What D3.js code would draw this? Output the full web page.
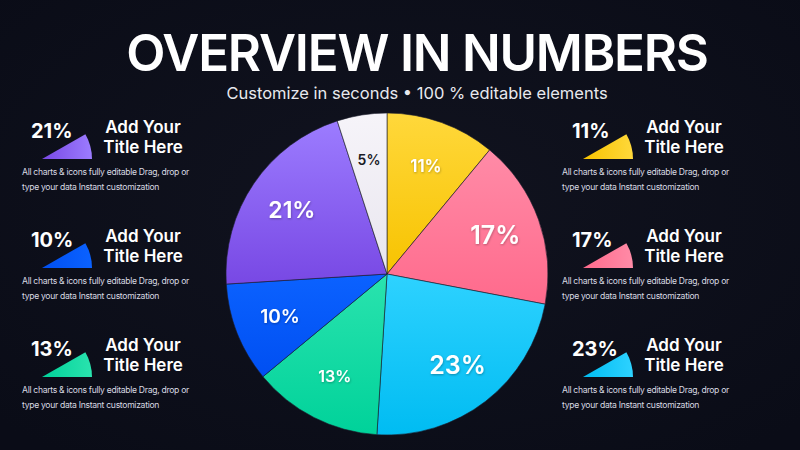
<!DOCTYPE html>
<html>
<head>
<meta charset="utf-8">
<script src="https://cdn.jsdelivr.net/npm/d3@7"></script>
<style>
  html, body { margin: 0; padding: 0; background: #0d0f1b; }
  svg { display: block; }
  text { font-family: Inter, "Open Sans", sans-serif; }
</style>
</head>
<body>
<svg id="chart" width="800" height="450"></svg>
<script>
// pie data, clockwise from 12 o'clock
var sliceNames = ["yellow", "pink", "cyan", "green", "blue", "purple", "white"];
var sliceValues = [11, 17, 23, 13, 10, 21, 5];
var sliceTop = ["#ffd83b", "#ff8ba7", "#2ed2ff", "#2ae3ae", "#0b62ff", "#9c7cff", "#f6f4f9"];
var sliceBottom = ["#f7c300", "#ff6a8c", "#00bcf2", "#00d29a", "#004ff2", "#7848e4", "#e9e6ef"];
var labelSize = [17, 25, 25, 16, 19, 23, 14];

// side legend items
var leftItems = [5, 4, 3];   // index into slices
var rightItems = [0, 1, 2];
var itemTitle = ["Add Your", "Title Here"];
var itemDesc = ["All charts & icons fully editable Drag, drop or", "type your data Instant customization"];

var svg = d3.select("#chart");
var width = +svg.attr("width");
var defs = svg.append("defs");

// background
var bg = defs.append("radialGradient").attr("id", "bg")
  .attr("cx", "50%").attr("cy", "45%").attr("r", "70%");
bg.append("stop").attr("offset", "0%").attr("stop-color", "#11131f");
bg.append("stop").attr("offset", "100%").attr("stop-color", "#0a0c17");
svg.append("rect").attr("width", width).attr("height", 450).attr("fill", "url(#bg)");

sliceNames.forEach(function (n, i) {
  var g = defs.append("linearGradient").attr("id", "g-" + n)
    .attr("x1", 0).attr("y1", 0).attr("x2", 0).attr("y2", 1);
  g.append("stop").attr("offset", "0%").attr("stop-color", sliceTop[i]);
  g.append("stop").attr("offset", "100%").attr("stop-color", sliceBottom[i]);
  var h = defs.append("linearGradient").attr("id", "h-" + n)
    .attr("x1", 0).attr("y1", 0).attr("x2", 1).attr("y2", 0);
  h.append("stop").attr("offset", "0%").attr("stop-color", sliceBottom[i]);
  h.append("stop").attr("offset", "100%").attr("stop-color", sliceTop[i]);
});

var shadow = defs.append("filter").attr("id", "ts")
  .attr("x", "-20%").attr("y", "-20%").attr("width", "140%").attr("height", "140%");
shadow.append("feDropShadow").attr("dx", 0.5).attr("dy", 1).attr("stdDeviation", 1)
  .attr("flood-color", "#000").attr("flood-opacity", 0.3);

// title
svg.append("text")
  .attr("x", 417).attr("y", 71)
  .attr("text-anchor", "middle")
  .attr("fill", "#ffffff")
  .style("font-size", "51px").style("font-weight", 600)
  .style("letter-spacing", "-1.2px")
  .text("OVERVIEW IN NUMBERS");

svg.append("text")
  .attr("x", 417).attr("y", 99)
  .attr("text-anchor", "middle")
  .attr("fill", "#e8e9ee")
  .style("font-size", "16.5px").style("font-weight", 400)
  .text("Customize in seconds \u2022 100 % editable elements");

// pie
var cx = 387, cy = 274, radius = 161;
var pie = d3.pie().sort(null).value(function (d) { return d; });
var arcs = pie(sliceValues);
var arc = d3.arc().innerRadius(0).outerRadius(radius);
var labelArc = d3.arc().innerRadius(115).outerRadius(115);

var pg = svg.append("g").attr("transform", "translate(" + cx + "," + cy + ")");
pg.selectAll("path.slice")
  .data(arcs)
  .enter().append("path")
  .attr("class", "slice")
  .attr("d", arc)
  .attr("fill", function (d, i) { return "url(#g-" + sliceNames[i] + ")"; })
  .attr("stroke", "#1b1d2b")
  .attr("stroke-width", 0.6);

pg.selectAll("text.lbl")
  .data(arcs)
  .enter().append("text")
  .attr("class", "lbl")
  .attr("transform", function (d) { return "translate(" + labelArc.centroid(d) + ")"; })
  .attr("text-anchor", "middle")
  .attr("dy", "0.36em")
  .attr("fill", function (d, i) { return i === 6 ? "#1a1b26" : "#ffffff"; })
  .attr("filter", function (d, i) { return i === 6 ? null : "url(#ts)"; })
  .style("font-size", function (d, i) { return labelSize[i] + "px"; })
  .style("font-weight", 600)
  .text(function (d) { return d.value + "%"; });

// side items
var iconArc = d3.arc().innerRadius(0).outerRadius(50)
  .startAngle(Math.PI / 2 - 0.52).endAngle(Math.PI / 2);

function drawItems(items, x0, titleX, descX) {
  var rowY = d3.scalePoint().domain(d3.range(items.length)).range([138, 356]);
  items.forEach(function (si, r) {
    var y0 = rowY(r);
    var g = svg.append("g");
    g.append("path")
      .attr("d", iconArc())
      .attr("transform", "translate(" + (x0 + 11) + "," + (y0 + 21) + ")")
      .attr("fill", "url(#h-" + sliceNames[si] + ")");
    g.append("text")
      .attr("x", x0).attr("y", y0)
      .attr("fill", "#ffffff")
      .style("font-size", "20px").style("font-weight", 700)
      .text(sliceValues[si] + "%");
    itemTitle.forEach(function (t, k) {
      g.append("text")
        .attr("x", titleX).attr("y", y0 - 5 + k * 20)
        .attr("text-anchor", "middle")
        .attr("fill", "#ffffff")
        .style("font-size", "17px").style("font-weight", 600)
        .text(t);
    });
    itemDesc.forEach(function (t, k) {
      g.append("text")
        .attr("x", descX).attr("y", y0 + 37 + k * 15)
        .attr("fill", "#d9dae2")
        .style("font-size", "8.6px").style("font-weight", 400)
        .style("letter-spacing", "-0.3px")
        .text(t);
    });
  });
}

drawItems(leftItems, 31, 143, 22);
drawItems(rightItems, 572, 684, 562);
</script>
</body>
</html>
